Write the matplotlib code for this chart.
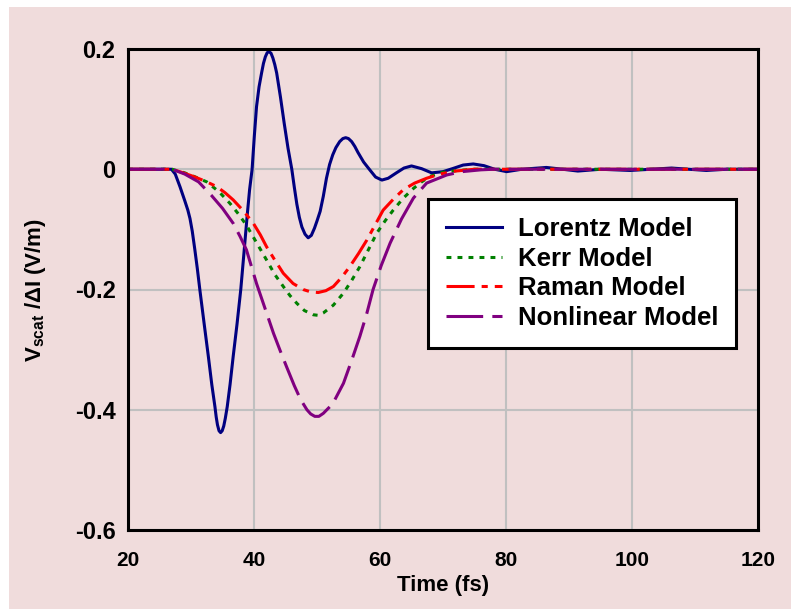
import numpy as np
import matplotlib
matplotlib.use('Agg')
import matplotlib.pyplot as plt
from matplotlib.patches import Rectangle

# values (time in fs, signal in V/m)
lorentz_t = [20, 26.9, 27.5, 28.25, 29.0, 29.5, 29.84, 30.2, 30.6, 31.0, 31.4, 32.1, 32.75, 33.3,
             33.8, 34.0, 34.2, 34.45, 34.7, 34.95, 35.2, 35.45, 35.75, 36.2, 36.7, 37.3, 37.9,
             38.4, 38.9, 39.3, 39.7, 40.05, 40.4, 40.8, 41.2, 41.5, 41.8, 42.1, 42.4, 42.7, 43.0,
             43.3, 43.6, 44.2, 44.8, 45.4, 46.0, 46.4, 46.8, 47.2, 47.6, 48.1, 48.6, 49.1, 49.6,
             50.0, 50.5, 51.0, 51.5, 52.0, 52.5, 53.0, 53.6, 54.1, 54.55, 55.0, 55.5, 56.0, 56.5,
             57.4, 58.3, 59.3, 60.3, 61.3, 62.6, 63.8, 65.0, 66.6, 68.2, 70.0, 71.5, 73.2, 74.8,
             76.5, 78.2, 80.1, 82.5, 86.4, 89.0, 91.4, 95.0, 99.7, 103.0, 106.3, 109.0, 111.8,
             115.0, 120]
lorentz_v = [0, 0, -0.008, -0.029, -0.052, -0.068, -0.082, -0.103, -0.133, -0.165, -0.200, -0.258,
             -0.311, -0.358, -0.395, -0.412, -0.425, -0.435, -0.438, -0.435, -0.427, -0.414,
             -0.395, -0.358, -0.311, -0.258, -0.200, -0.140, -0.079, -0.034, 0.0, 0.055, 0.104,
             0.137, 0.160, 0.176, 0.187, 0.194, 0.1955, 0.193, 0.185, 0.174, 0.160, 0.120, 0.076,
             0.035, 0.0, -0.030, -0.058, -0.080, -0.096, -0.108, -0.114, -0.110, -0.098, -0.086,
             -0.070, -0.045, -0.015, 0.008, 0.024, 0.036, 0.046, 0.051, 0.0525, 0.051, 0.046,
             0.038, 0.028, 0.012, 0.0, -0.013, -0.018, -0.015, -0.006, 0.002, 0.0055, 0.001,
             -0.006, -0.004, 0.001, 0.007, 0.0088, 0.006, 0.0, -0.004, 0.0, 0.003, 0.0, -0.003,
             0.0, -0.002, 0.0, 0.002, 0.0, -0.002, 0.0, 0]

kerr_t = [20, 27.0, 29.0, 30.5, 32.5, 34.5, 36.2, 37.5, 38.8, 40.4, 42.0, 43.3, 44.65, 45.7, 46.8,
          48.0, 49.4, 50.2, 51.0, 52.6, 54.2, 55.5, 56.8, 58.2, 59.5, 60.8, 62.1, 63.7, 65.3,
          66.6, 67.9, 70.0, 72.5, 75.0, 120]
kerr_v = [0, 0, -0.006, -0.012, -0.021, -0.038, -0.057, -0.074, -0.093, -0.122, -0.151, -0.175,
          -0.195, -0.210, -0.223, -0.235, -0.242, -0.243, -0.239, -0.226, -0.206, -0.185, -0.162,
          -0.133, -0.106, -0.086, -0.068, -0.048, -0.032, -0.021, -0.012, -0.005, -0.002, 0, 0]

raman_t = [20, 27.0, 28.5, 30.4, 32.3, 34.1, 35.4, 36.7, 38.3, 39.9, 41.0, 42.0, 43.3, 44.65, 46.2,
           47.8, 49.0, 50.2, 51.4, 52.6, 53.9, 55.2, 56.6, 57.9, 59.2, 60.5, 62.1, 63.7, 65.5,
           67.4, 69.5, 72.0, 75.0, 120]
raman_v = [0, 0, -0.005, -0.012, -0.020, -0.029, -0.039, -0.051, -0.069, -0.090, -0.109, -0.129,
           -0.151, -0.173, -0.190, -0.200, -0.204, -0.205, -0.202, -0.195, -0.180, -0.162, -0.140,
           -0.118, -0.093, -0.068, -0.050, -0.034, -0.023, -0.015, -0.008, -0.003, 0, 0]

nonlin_t = [20, 27.0, 29.0, 31.2, 33.2, 35.0, 36.7, 37.8, 38.8, 40.4, 41.8, 43.1, 44.2, 45.15, 46.4,
            47.4, 48.4, 49.0, 49.65, 50.3, 51.0, 52.5, 54.2, 55.5, 56.8, 57.9, 58.9, 60.2, 61.6,
            63.4, 65.3, 67.4, 70.6, 73.0, 76.0, 78.0, 120]
nonlin_v = [0, 0, -0.008, -0.021, -0.043, -0.065, -0.090, -0.112, -0.134, -0.190, -0.233, -0.273,
            -0.303, -0.328, -0.360, -0.383, -0.400, -0.407, -0.411, -0.411, -0.406, -0.390, -0.356,
            -0.318, -0.278, -0.240, -0.200, -0.160, -0.123, -0.083, -0.048, -0.023, -0.0095,
            -0.004, -0.001, 0, 0]

labels = ['Lorentz Model', 'Kerr Model', 'Raman Model', 'Nonlinear Model']
xticks = [20, 40, 60, 80, 100, 120]
yticks = [-0.6, -0.4, -0.2, 0, 0.2]
yticklabels = ['-0.6', '-0.4', '-0.2', '0', '0.2']

pink = '#f0dcdc'
plt.rcParams['mathtext.fontset'] = 'custom'
plt.rcParams['mathtext.rm'] = 'Liberation Sans:bold'
plt.rcParams['mathtext.bf'] = 'Liberation Sans:bold'

fig = plt.figure(figsize=(7.91, 6.09), dpi=100, facecolor=pink)
# white strips at the top and left edge of the scan
fig.patches.append(Rectangle((0, 1 - 7/609), 1, 7/609, transform=fig.transFigure,
                             facecolor='white', edgecolor='none'))
fig.patches.append(Rectangle((0, 0), 9/791, 1, transform=fig.transFigure,
                             facecolor='white', edgecolor='none'))

ax = fig.add_axes([128/791, 1 - 530/609, 630/791, 481/609])
ax.set_facecolor(pink)

lw = 2.2
ax.plot(lorentz_t, lorentz_v, color='#000080', lw=lw, label=labels[0])
ax.plot(kerr_t, kerr_v, color='#008000', lw=lw, linestyle=(0, (1.6, 2.0)), label=labels[1])
ax.plot(raman_t, raman_v, color='#ff0000', lw=lw, linestyle=(0, (9.2, 2.3, 2.0, 2.3)), label=labels[2])
ax.plot(nonlin_t, nonlin_v, color='#800080', lw=lw, linestyle=(0, (12, 3)), label=labels[3])

ax.set_xlim(20, 120)
ax.set_ylim(-0.6, 0.2)
ax.set_xticks(xticks)
ax.set_yticks(yticks)
ax.set_yticklabels(yticklabels)
ax.grid(True, color='#c0c0c0', lw=1.5)
ax.set_axisbelow(True)
ax.tick_params(length=0)
ax.tick_params(axis='y', pad=9)
ax.tick_params(axis='x', pad=15)
for s in ax.spines.values():
    s.set_linewidth(2.2)
    s.set_color('black')

for t in ax.get_xticklabels():
    t.set_fontfamily('Liberation Sans')
    t.set_fontweight('bold')
    t.set_fontsize(15)
for t in ax.get_yticklabels():
    t.set_fontfamily('Liberation Sans')
    t.set_fontweight('bold')
    t.set_fontsize(17)

ax.set_xlabel('Time (fs)', fontfamily='Liberation Sans',
              fontweight='bold', fontsize=16, labelpad=4)
ax.set_ylabel(r'V$_{\rm scat}$ /ΔI (V/m)', fontfamily='Liberation Sans',
              fontweight='bold', fontsize=16)
ax.yaxis.set_label_coords(-0.127, 0.5)

leg = ax.legend(loc='upper left', bbox_to_anchor=(0.476, 0.688), borderaxespad=0,
                prop={'family': 'Liberation Sans', 'weight': 'bold', 'size': 18.5},
                handlelength=2.2, handletextpad=0.6, labelspacing=0.22, borderpad=0.7,
                fancybox=False, framealpha=1, facecolor='white', edgecolor='black')
leg.get_frame().set_linewidth(2.2)

fig.savefig('out.png', dpi=100, facecolor=pink)
